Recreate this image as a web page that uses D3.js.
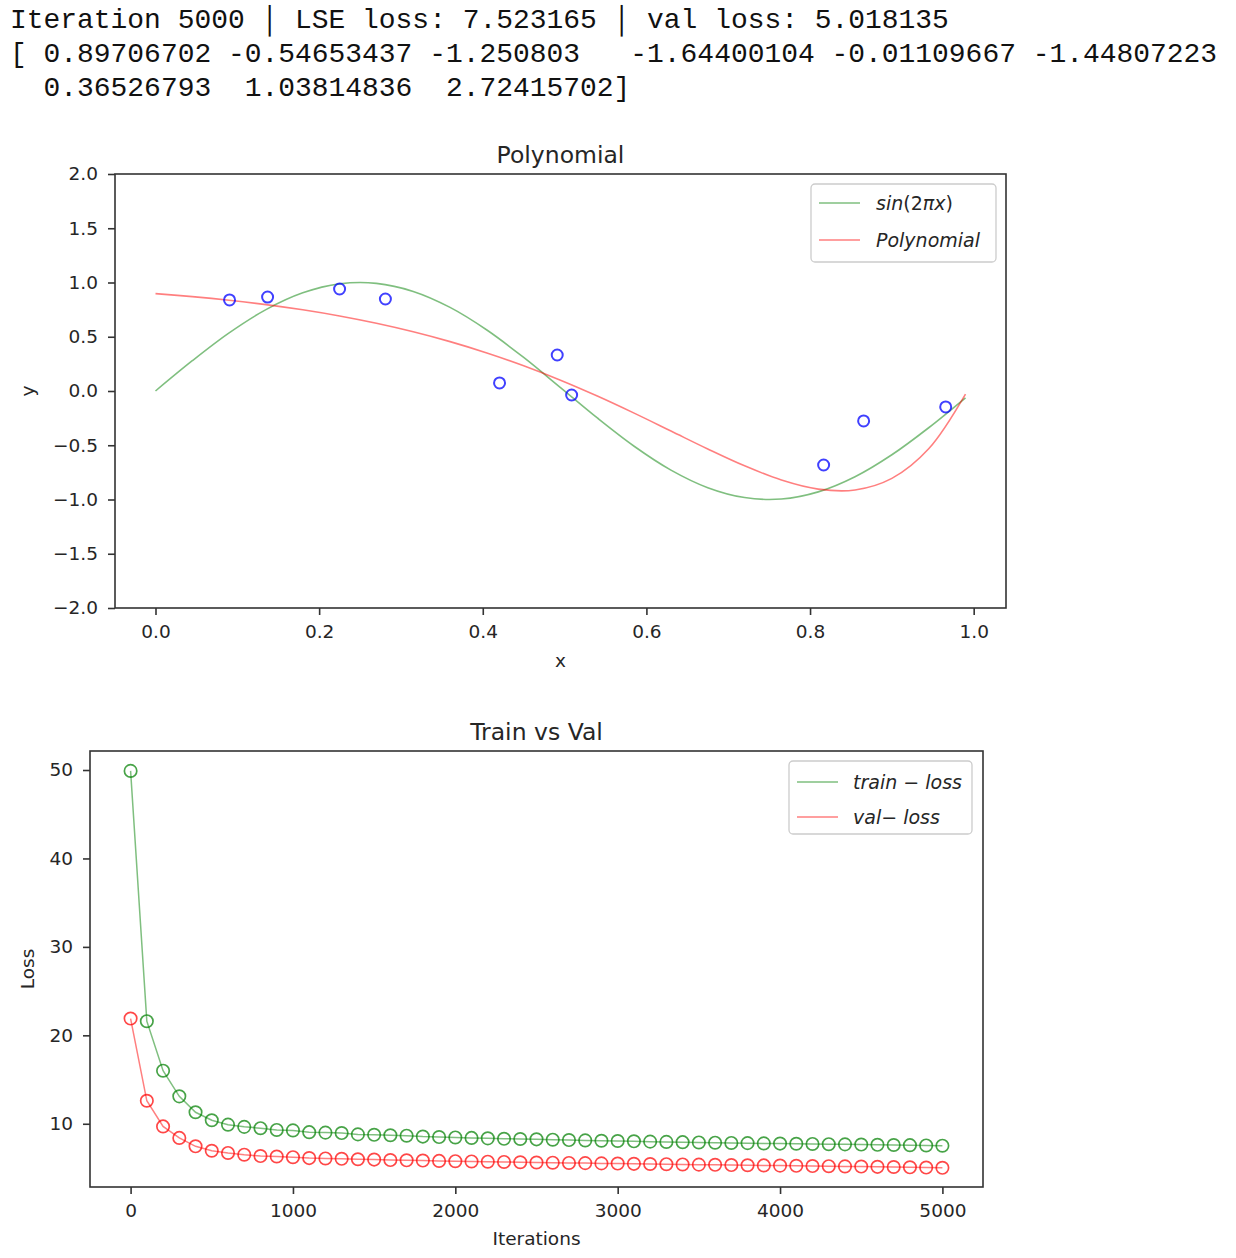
<!DOCTYPE html>
<html>
<head>
<meta charset="utf-8">
<script src="https://cdn.jsdelivr.net/npm/d3@7"></script>
<style>
  body { margin: 0; background: #fff; }
  svg text { font-family: "DejaVu Sans", sans-serif; fill: #262626; }
  svg text.mono { font-family: "Liberation Mono", "DejaVu Sans Mono", monospace; white-space: pre; fill: #111; }
</style>
</head>
<body>
<script>
'use strict';

// printed output above the plots
const headerLines = [
    "Iteration 5000 \u2502 LSE loss: 7.523165 \u2502 val loss: 5.018135",
    "[ 0.89706702 -0.54653437 -1.250803   -1.64400104 -0.01109667 -1.44807223",
    "  0.36526793  1.03814836  2.72415702]"
];

// top plot: curve samples
const curveX = [0, 0.045, 0.09, 0.135, 0.18, 0.225, 0.27, 0.315, 0.36, 0.405, 0.45, 0.495,
    0.54, 0.585, 0.63, 0.675, 0.72, 0.765, 0.81, 0.855, 0.9, 0.945, 0.99];
const sineY = [0, 0.279, 0.5358, 0.7501, 0.9048, 0.9877, 0.9921, 0.9178, 0.7705, 0.5621, 0.309, 0.0314,
    -0.2487, -0.509, -0.729, -0.891, -0.9823, -0.9956, -0.9298, -0.7902, -0.5878, -0.3387, -0.0628];
const polyY = [0.8971, 0.8698, 0.8366, 0.7964, 0.7483, 0.6913, 0.6242, 0.5458, 0.455, 0.3507, 0.2324, 0.0997,
    -0.0464, -0.204, -0.3689, -0.5343, -0.6899, -0.8203, -0.9042, -0.9123, -0.8055, -0.5326, -0.0283];

// top plot: training samples
const sampleX = [0.0905, 0.137, 0.225, 0.281, 0.4205, 0.491, 0.5086, 0.8166, 0.8655, 0.9658];
const sampleY = [0.839, 0.866, 0.94, 0.848, 0.074, 0.332, -0.037, -0.682, -0.276, -0.147];

const polyXTicks = [0, 0.2, 0.4, 0.6, 0.8, 1.0];
const polyYTicks = [-2, -1.5, -1, -0.5, 0, 0.5, 1, 1.5, 2];

// bottom plot: losses every 100 iterations
const iterations = [0, 100, 200, 300, 400, 500, 600, 700, 800, 900, 1000, 1100, 1200, 1300, 1400, 1500,
    1600, 1700, 1800, 1900, 2000, 2100, 2200, 2300, 2400, 2500, 2600, 2700, 2800, 2900, 3000, 3100, 3200,
    3300, 3400, 3500, 3600, 3700, 3800, 3900, 4000, 4100, 4200, 4300, 4400, 4500, 4600, 4700, 4800, 4900, 5000];
const trainLoss = [49.9, 21.6, 16.0, 13.1, 11.3, 10.4, 9.9, 9.65, 9.5, 9.3, 9.25, 9.05, 9.0, 8.95, 8.8, 8.75,
    8.7, 8.65, 8.55, 8.5, 8.45, 8.4, 8.35, 8.3, 8.28, 8.24, 8.2, 8.16, 8.12, 8.08, 8.05, 8.02, 7.98,
    7.95, 7.92, 7.89, 7.86, 7.83, 7.81, 7.78, 7.76, 7.74, 7.72, 7.69, 7.67, 7.65, 7.62, 7.6, 7.58, 7.55, 7.52];
const valLoss = [21.9, 12.6, 9.7, 8.4, 7.45, 6.95, 6.7, 6.5, 6.35, 6.3, 6.22, 6.12, 6.08, 6.04, 5.99, 5.95,
    5.9, 5.87, 5.84, 5.8, 5.77, 5.74, 5.71, 5.68, 5.65, 5.62, 5.6, 5.57, 5.55, 5.52, 5.5, 5.47, 5.45,
    5.43, 5.4, 5.38, 5.36, 5.33, 5.31, 5.29, 5.27, 5.25, 5.22, 5.2, 5.18, 5.16, 5.13, 5.11, 5.08, 5.05, 5.02];

const lossXTicks = [0, 1000, 2000, 3000, 4000, 5000];
const lossYTicks = [10, 20, 30, 40, 50];

const width = 1236, height = 1258;
const tickFont = 18.5, titleFont = 23.5, legendFont = 19;

let svg = d3.select("body").append("svg")
    .attr("width", width)
    .attr("height", height);

svg.append("rect").attr("width", width).attr("height", height).attr("fill", "#fff");

svg.append("g").selectAll("text")
    .data(headerLines)
    .enter().append("text")
    .attr("class", "mono")
    .attr("x", 10)
    .attr("y", (d, i) => 28 + i * 34)
    .attr("font-size", 27.95)
    .text(d => d);

// draws frame, ticks, labels and title of one axes box
function drawFrame(g, x, y, xTicks, yTicks, xFmt, yFmt, opts) {
    let [x0, x1] = x.range(), [y1, y0] = y.range();

    let xAxis = g.append("g")
        .attr("transform", "translate(0," + y1 + ")")
        .call(d3.axisBottom(x).tickValues(xTicks).tickFormat(xFmt).tickSize(7).tickPadding(10).tickSizeOuter(0));
    let yAxis = g.append("g")
        .attr("transform", "translate(" + x0 + ",0)")
        .call(d3.axisLeft(y).tickValues(yTicks).tickFormat(yFmt).tickSize(7).tickPadding(10).tickSizeOuter(0));

    [xAxis, yAxis].forEach(a => {
        a.select(".domain").remove();
        a.selectAll("line").attr("stroke", "#333").attr("stroke-width", 1.6);
        a.selectAll("text").attr("font-size", tickFont).attr("font-family", "DejaVu Sans").attr("fill", "#262626");
    });

    g.append("rect")
        .attr("x", x0).attr("y", y0)
        .attr("width", x1 - x0).attr("height", y1 - y0)
        .attr("fill", "none")
        .attr("stroke", "#333")
        .attr("stroke-width", 1.6);

    g.append("text")
        .attr("x", (x0 + x1) / 2).attr("y", y0 - 11)
        .attr("text-anchor", "middle")
        .attr("font-size", titleFont)
        .text(opts.title);

    g.append("text")
        .attr("x", (x0 + x1) / 2).attr("y", opts.xLabelY)
        .attr("text-anchor", "middle")
        .attr("font-size", tickFont)
        .text(opts.xLabel);

    g.append("text")
        .attr("transform", "translate(" + opts.yLabelX + "," + (y0 + y1) / 2 + ") rotate(-90)")
        .attr("text-anchor", "middle")
        .attr("font-size", tickFont)
        .text(opts.yLabel);
}

// legend box with line samples, label is list of [text, italic] parts
function drawLegend(g, box, entries) {
    g.append("rect")
        .attr("x", box.x).attr("y", box.y)
        .attr("width", box.w).attr("height", box.h)
        .attr("rx", 4)
        .attr("fill", "#fff")
        .attr("fill-opacity", 0.8)
        .attr("stroke", "#cccccc")
        .attr("stroke-width", 1.3);

    entries.forEach((e, i) => {
        let cy = box.y + box.first + i * box.step;
        g.append("line")
            .attr("x1", box.x + 8).attr("x2", box.x + 49)
            .attr("y1", cy).attr("y2", cy)
            .attr("stroke", e.color)
            .attr("stroke-opacity", 0.5)
            .attr("stroke-width", 1.6);
        let t = g.append("text")
            .attr("x", box.x + box.textX)
            .attr("y", cy + 7)
            .attr("font-size", legendFont)
            .attr("fill", "#262626");
        e.label.forEach(p => {
            t.append("tspan")
                .attr("font-style", p[1] ? "italic" : "normal")
                .text(p[0]);
        });
    });
}

// ---- top: Polynomial ----
let xPoly = d3.scaleLinear().domain([-0.0495, 1.0395]).range([115, 1006]);
let yPoly = d3.scaleLinear().domain([-2, 2]).range([608, 174]);

let polyPlot = svg.append("g");
drawFrame(polyPlot, xPoly, yPoly, polyXTicks, polyYTicks, d3.format(".1f"), d3.format(".1f"),
    { title: "Polynomial", xLabel: "x", yLabel: "y", xLabelY: 667, yLabelX: 34 });

let curveLine = d3.line()
    .x((d, i) => xPoly(curveX[i]))
    .y(d => yPoly(d))
    .curve(d3.curveCatmullRom);

polyPlot.append("path")
    .attr("d", curveLine(sineY))
    .attr("fill", "none")
    .attr("stroke", "#008000")
    .attr("stroke-opacity", 0.5)
    .attr("stroke-width", 1.6);

polyPlot.append("path")
    .attr("d", curveLine(polyY))
    .attr("fill", "none")
    .attr("stroke", "#ff0000")
    .attr("stroke-opacity", 0.5)
    .attr("stroke-width", 1.6);

polyPlot.append("g").selectAll("circle")
    .data(sampleX)
    .enter().append("circle")
    .attr("cx", d => xPoly(d))
    .attr("cy", (d, i) => yPoly(sampleY[i]))
    .attr("r", 5.5)
    .attr("fill", "none")
    .attr("stroke", "#0000ff")
    .attr("stroke-opacity", 0.75)
    .attr("stroke-width", 2);

drawLegend(polyPlot, { x: 811, y: 184, w: 185, h: 78, first: 19, step: 37, textX: 65 }, [
    { color: "#008000", label: [["sin", true], ["(2", false], ["\u03c0x", true], [")", false]] },
    { color: "#ff0000", label: [["Polynomial", true]] }
]);

// ---- bottom: Train vs Val ----
let xLoss = d3.scaleLinear().domain([-250, 5250]).range([90, 983]);
let yLoss = d3.scaleLinear().domain([2.85, 52.15]).range([1187, 751]);

let lossPlot = svg.append("g");
drawFrame(lossPlot, xLoss, yLoss, lossXTicks, lossYTicks, d3.format("d"), d3.format("d"),
    { title: "Train vs Val", xLabel: "Iterations", yLabel: "Loss", xLabelY: 1245, yLabelX: 34 });

let lossLine = d3.line()
    .x((d, i) => xLoss(iterations[i]))
    .y(d => yLoss(d));

[[trainLoss, "#008000"], [valLoss, "#ff0000"]].forEach(s => {
    lossPlot.append("path")
        .attr("d", lossLine(s[0]))
        .attr("fill", "none")
        .attr("stroke", s[1])
        .attr("stroke-opacity", 0.5)
        .attr("stroke-width", 1.5);
    lossPlot.append("g").selectAll("circle")
        .data(s[0])
        .enter().append("circle")
        .attr("cx", (d, i) => xLoss(iterations[i]))
        .attr("cy", d => yLoss(d))
        .attr("r", 6.2)
        .attr("fill", "none")
        .attr("stroke", s[1])
        .attr("stroke-opacity", 0.72)
        .attr("stroke-width", 1.7);
});

drawLegend(lossPlot, { x: 789, y: 761, w: 183, h: 73, first: 21, step: 35, textX: 64 }, [
    { color: "#008000", label: [["train", true], [" \u2212 ", false], ["loss", true]] },
    { color: "#ff0000", label: [["val", true], ["\u2212 ", false], ["loss", true]] }
]);
</script>
</body>
</html>
